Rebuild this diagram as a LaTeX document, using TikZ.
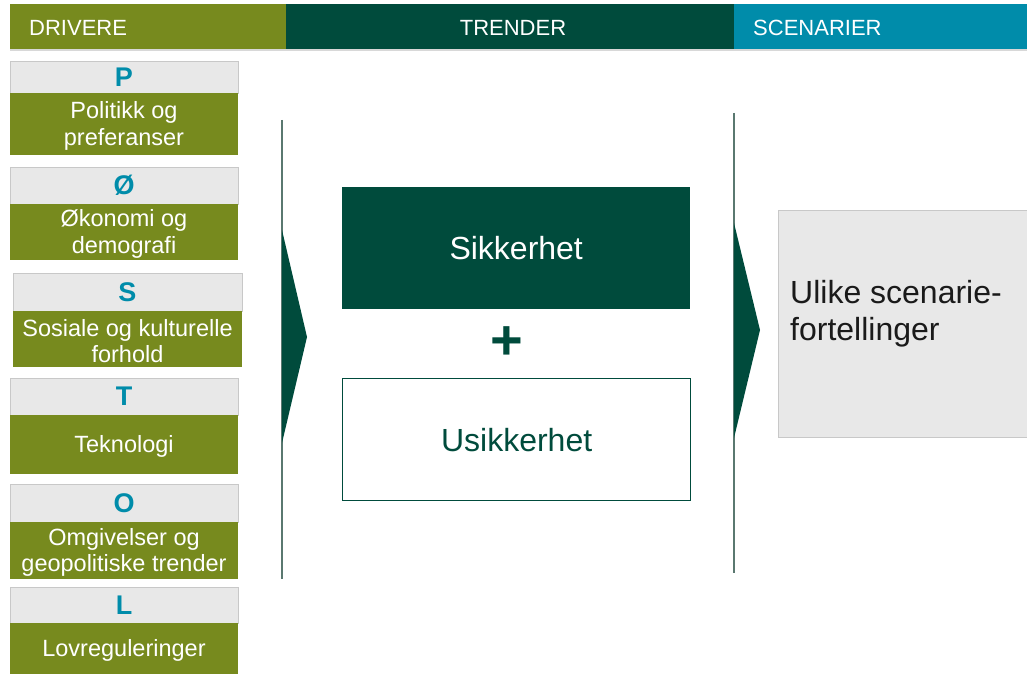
\documentclass[tikz,border=0pt]{standalone}
\usepackage{fontspec}
\setmainfont{Liberation Sans}
\definecolor{drvolive}{RGB}{119,138,30}
\definecolor{dkgreen}{RGB}{0,75,60}
\definecolor{tealc}{RGB}{0,140,170}
\definecolor{lgray}{RGB}{232,232,232}
\definecolor{bgray}{RGB}{200,200,200}
\definecolor{linec}{RGB}{90,120,112}
\definecolor{sctext}{RGB}{26,26,26}
\newcommand\drv[8]{%
  \fill[lgray, draw=bgray, line width=0.8] (#2,#4) rectangle (#3,#5);
  \fill[drvolive] (#2,#5) rectangle (#3,#6);
  \node[letterlab] (#1l) at ({(#2+#3)/2},{(#4+#5)/2}) {#7};
  \node[dtext] (#1t) at ({(#2+#3)/2},{(#5+#6)/2}) {#8};
}
\begin{document}
\begin{tikzpicture}[x=1pt,y=-1pt,
  hdr/.style={font=\fontsize{22}{25}\selectfont, text=white, inner sep=0},
  letterlab/.style={font=\fontsize{27}{30}\selectfont\bfseries, text=tealc, inner sep=0},
  dtext/.style={font=\fontsize{23.5}{26.5}\selectfont, text=white, align=center, inner sep=0, yshift=-2pt},
  bigtext/.style={font=\fontsize{32}{37}\selectfont, inner sep=0},
  trendbox/.style={minimum width=348pt, minimum height=122pt, anchor=north west, bigtext, inner sep=0},
  vline/.style={draw=linec, line width=1.3pt},
  wedge/.style={fill=dkgreen}]
\useasboundingbox (0,0) rectangle (1027,674);
% header
\fill[bgray!70] (10,49) rectangle (1027,51.5);
\fill[drvolive] (10,4) rectangle (286,49);
\fill[dkgreen] (286,4) rectangle (734,49);
\fill[tealc] (734,4) rectangle (1027,49);
\node[hdr, anchor=west] (hd) at (29,28) {DRIVERE};
\node[hdr] (ht) at (513,28) {TRENDER};
\node[hdr, anchor=west] (hs) at (753,28) {SCENARIER};
% drivers
\drv{p}{10}{238}{61}{93}{155}{P}{Politikk og\\preferanser}
\drv{oe}{10}{238}{167}{204}{260}{Ø}{Økonomi og\\demografi}
\drv{s}{13}{242}{273}{311}{367}{S}{Sosiale og kulturelle\\forhold}
\drv{t}{10}{238}{378}{415}{474}{T}{Teknologi}
\drv{o}{10}{238}{484}{522}{579}{O}{Omgivelser og\\geopolitiske trender}
\drv{l}{10}{238}{587}{623}{674}{L}{Lovreguleringer}
% separators with wedges
\coordinate (la) at (282,120);
\coordinate (lb) at (282,579);
\draw[vline] (la) -- (lb);
\fill[wedge] (282,230) -- (307,337) -- (282,443) -- cycle;
\coordinate (ra) at (734,113);
\coordinate (rb) at (734,573);
\draw[vline] (ra) -- (rb);
\fill[wedge] (734,223) -- (760,330) -- (734,438) -- cycle;
% trends
\node[trendbox, fill=dkgreen, text=white] (sik) at (342,187) {Sikkerhet};
\node[font=\fontsize{56}{60}\selectfont\bfseries, text=dkgreen, inner sep=0] (plus) at (507,343) {+};
\node[trendbox, fill=white, draw=dkgreen, line width=1.3pt, text=dkgreen] (usik) at (342,378) {Usikkerhet};
% scenario
\node[fill=lgray, draw=bgray, line width=1pt, minimum width=262pt, minimum height=227pt, anchor=north west, inner sep=0] (sc) at (778,210) {};
\node[bigtext, anchor=north west, align=left, text=sctext] (sct) at (790,280) {Ulike scenarie-\\fortellinger};
\end{tikzpicture}
\end{document}
